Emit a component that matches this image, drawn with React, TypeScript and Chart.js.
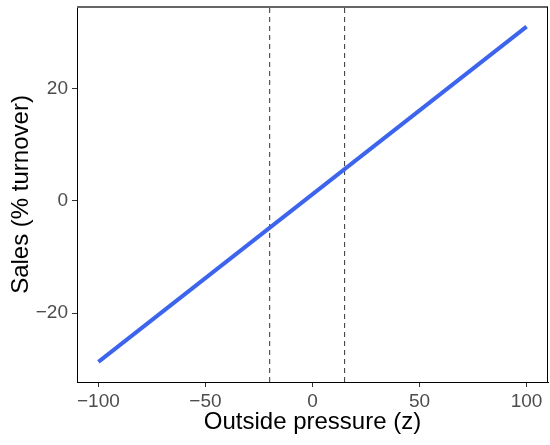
import React, { useEffect, useRef } from "react";
import { Chart, registerables } from "chart.js";

Chart.register(...registerables);

// Data
const xEnds = [-100, 100];
const salesEnds = [-28.7, 31.1];
const boundaries = [-20, 15];
const xTicks = [-100, -50, 0, 50, 100];
const yTicks = [-20, 0, 20];
const xRange = [-110, 110];
const yRange = [-32.3, 34.6];

const fmt = (v: number) => (v < 0 ? "\u2212" + Math.abs(v) : String(v));

const frame = {
  id: "frame",
  afterDatasetsDraw(chart: any) {
    const { ctx, chartArea } = chart;
    const { left, right, top, bottom } = chartArea;
    ctx.save();
    ctx.strokeStyle = "#666";
    ctx.lineWidth = 2;
    ctx.beginPath();
    ctx.moveTo(left, top);
    ctx.lineTo(right, top);
    ctx.stroke();
    ctx.strokeStyle = "#000";
    ctx.lineWidth = 1;
    ctx.beginPath();
    ctx.moveTo(right - 0.5, top);
    ctx.lineTo(right - 0.5, bottom);
    ctx.stroke();
    ctx.restore();
  },
};

export default function App() {
  const ref = useRef<HTMLCanvasElement>(null);
  useEffect(() => {
    if (!ref.current) return;
    const dashed = boundaries.map((b) => ({
      data: [
        { x: b, y: yRange[0] },
        { x: b, y: yRange[1] },
      ],
      showLine: true,
      borderColor: "#333",
      borderWidth: 1,
      borderDash: [5, 4],
      pointRadius: 0,
    }));
    const chart = new Chart(ref.current, {
      type: "scatter",
      data: {
        datasets: [
          {
            data: xEnds.map((x, i) => ({ x, y: salesEnds[i] })),
            showLine: true,
            borderColor: "#3d64ec",
            borderWidth: 4,
            pointRadius: 0,
            borderCapStyle: "butt",
          },
          ...dashed,
        ] as any,
      },
      options: {
        responsive: false,
        animation: false,
        layout: { padding: { top: 7, right: 2, left: 0, bottom: 0 } },
        plugins: { legend: { display: false }, tooltip: { enabled: false } },
        scales: {
          x: {
            type: "linear",
            min: xRange[0],
            max: xRange[1],
            afterBuildTicks: (s: any) => {
              s.ticks = xTicks.map((v) => ({ value: v }));
            },
            afterFit: (s: any) => {
              s.height = 63;
              s.paddingLeft = 0;
              s.paddingRight = 0;
            },
            ticks: {
              callback: (v: any) => fmt(Number(v)),
              font: { family: "Liberation Sans, Arial", size: 19 },
              color: "#4d4d4d",
              padding: 3,
              maxRotation: 0,
            },
            grid: { drawOnChartArea: false, drawTicks: true, tickLength: 5, color: "#333" },
            border: { display: true, color: "#000", width: 1 },
            title: {
              display: true,
              text: "Outside pressure (z)",
              font: { family: "Liberation Sans, Arial", size: 24 },
              color: "#000",
              padding: { top: 0, bottom: 8 },
            },
          },
          y: {
            type: "linear",
            min: yRange[0],
            max: yRange[1],
            afterBuildTicks: (s: any) => {
              s.ticks = yTicks.map((v) => ({ value: v }));
            },
            afterFit: (s: any) => {
              s.width = 77;
              s.paddingTop = 0;
              s.paddingBottom = 0;
            },
            ticks: {
              callback: (v: any) => fmt(Number(v)),
              font: { family: "Liberation Sans, Arial", size: 19 },
              color: "#4d4d4d",
              padding: 4,
            },
            grid: { drawOnChartArea: false, drawTicks: true, tickLength: 5, color: "#333" },
            border: { display: true, color: "#000", width: 1 },
            title: {
              display: true,
              text: "Sales (% turnover)",
              font: { family: "Liberation Sans, Arial", size: 24 },
              color: "#000",
              padding: { top: 7, bottom: 0 },
            },
          },
        },
      },
      plugins: [frame],
    });
    return () => chart.destroy();
  }, []);
  return (
    <div style={{ position: "fixed", left: 0, top: 0, width: 550, height: 445, background: "#fff" }}>
      <canvas ref={ref} width={550} height={445} />
    </div>
  );
}
